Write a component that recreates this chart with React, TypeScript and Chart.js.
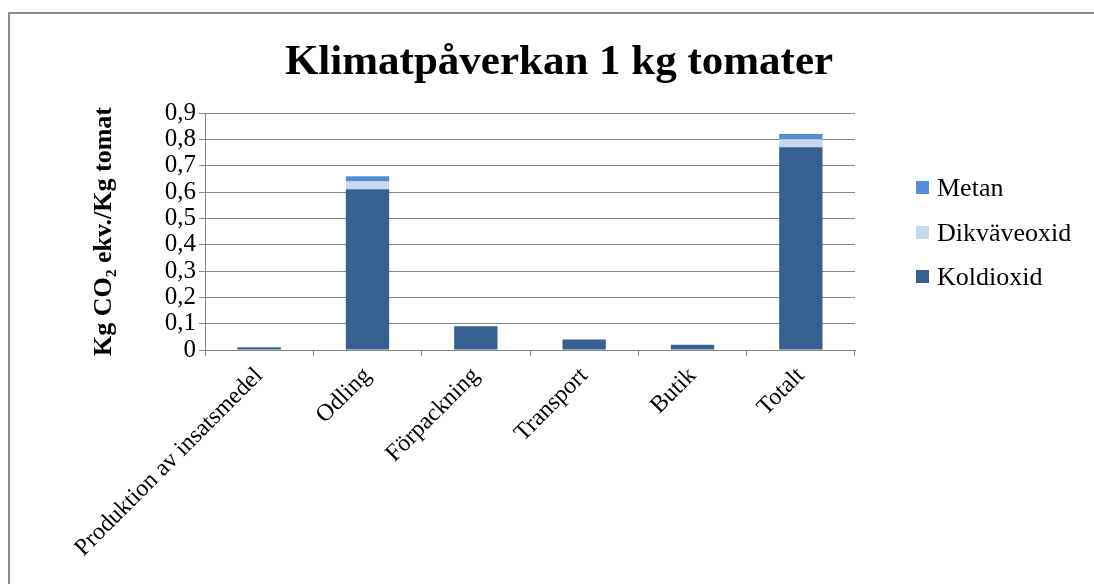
import React, { useEffect, useRef } from "react";
import { Chart, registerables } from "chart.js";

Chart.register(...registerables);

const categories = ["Produktion av insatsmedel", "Odling", "Förpackning", "Transport", "Butik", "Totalt"];
const koldioxid = [0.01, 0.61, 0.09, 0.04, 0.02, 0.77];
const dikvaveoxid = [0, 0.03, 0, 0, 0, 0.03];
const metan = [0, 0.02, 0, 0, 0, 0.02];
const yTickLabels = ["0", "0,1", "0,2", "0,3", "0,4", "0,5", "0,6", "0,7", "0,8", "0,9"];

const chartTitle = "Klimatpåverkan 1 kg tomater";
const yAxisTitle = "Kg CO\u2082 ekv./Kg tomat";

const FONT = "'Liberation Serif', 'Times New Roman', serif";
const GRID = "#868686";

const W = 1084;
const H = 570;

const titlePlugin = {
  id: "customTitle",
  afterDraw(chart: any) {
    const ctx = chart.ctx;
    ctx.save();
    ctx.font = `bold 43px ${FONT}`;
    ctx.fillStyle = "#000";
    ctx.textAlign = "center";
    ctx.textBaseline = "alphabetic";
    ctx.fillText(chartTitle, 549, 60);
    ctx.restore();
  },
};

const legendPlugin = {
  id: "customLegend",
  afterDraw(chart: any) {
    const ctx = chart.ctx;
    const ds = chart.data.datasets;
    ctx.save();
    ctx.font = `26px ${FONT}`;
    ctx.textAlign = "left";
    ctx.textBaseline = "alphabetic";
    const baselines = [182, 227, 271];
    const order = [...ds].reverse();
    order.forEach((d: any, i: number) => {
      const b = baselines[i];
      ctx.fillStyle = d.backgroundColor;
      ctx.fillRect(906, b - 15, 13, 13);
      ctx.fillStyle = "#000";
      ctx.fillText(d.label, 927, b);
    });
    ctx.restore();
  },
};

export default function App() {
  const ref = useRef<HTMLCanvasElement>(null);
  useEffect(() => {
    if (!ref.current) return;
    const chart = new Chart(ref.current, {
      type: "bar",
      data: {
        labels: categories,
        datasets: [
          { label: "Koldioxid", data: koldioxid, backgroundColor: "#376092" },
          { label: "Dikväveoxid", data: dikvaveoxid, backgroundColor: "#C6D9F1" },
          { label: "Metan", data: metan, backgroundColor: "#558ED5" },
        ],
      },
      options: {
        responsive: false,
        animation: false,
        devicePixelRatio: 1,
        layout: { padding: { left: 79, right: 239, top: 99, bottom: 0 } },
        datasets: { bar: { categoryPercentage: 1, barPercentage: 0.4 } },
        plugins: {
          legend: { display: false },
          title: { display: false },
          tooltip: { enabled: false },
        },
        scales: {
          x: {
            stacked: true,
            afterFit: (s: any) => { s.height = 234; },
            grid: { display: true, drawOnChartArea: false, offset: true, tickLength: 6, color: GRID, lineWidth: 1 },
            border: { display: true, color: GRID, width: 1 },
            ticks: { minRotation: 45, maxRotation: 45, autoSkip: false, color: "#000", font: { family: FONT, size: 24 }, padding: 6 },
          },
          y: {
            stacked: true,
            min: 0,
            max: 0.9,
            afterFit: (s: any) => { s.width = 116; },
            afterBuildTicks: (s: any) => {
              s.ticks = yTickLabels.map((_, i) => ({ value: i / 10 }));
            },
            grid: { color: GRID, lineWidth: 1, tickLength: 6 },
            border: { display: true, color: GRID, width: 1 },
            ticks: {
              autoSkip: false,
              color: "#000",
              font: { family: FONT, size: 25 },
              padding: 3,
              callback: (_v: any, i: number) => yTickLabels[i],
            },
            title: {
              display: true,
              text: yAxisTitle,
              color: "#000",
              font: { family: FONT, size: 26, weight: "bold" },
              padding: { top: 0, bottom: 0 },
            },
          },
        },
      },
      plugins: [titlePlugin, legendPlugin],
    });
    return () => chart.destroy();
  }, []);

  return (
    <div
      style={{
        position: "fixed",
        left: 8,
        top: 12,
        width: 1086,
        height: 572,
        borderTop: "2px solid #8c8c8c",
        borderLeft: "2px solid #8c8c8c",
        boxSizing: "border-box",
        background: "#fff",
      }}
    >
      <canvas ref={ref} width={W} height={H} style={{ width: W, height: H, display: "block" }} />
    </div>
  );
}
